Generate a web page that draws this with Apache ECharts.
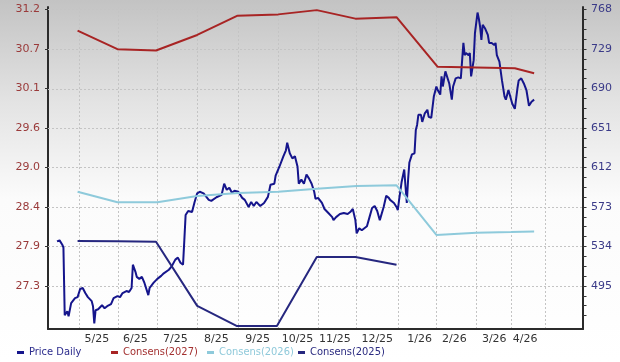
<!DOCTYPE html>
<html>
<head>
<meta charset="utf-8">
<script src="https://cdn.jsdelivr.net/npm/echarts@6/dist/echarts.min.js"></script>
<style>
html,body{margin:0;padding:0;background:#fff;}
#chart{width:620px;height:362px;}
</style>
</head>
<body>
<div id="chart"></div>
<script>
// ---- axis ranges / ticks ----
const startDay = '2025-04-06';
const endDay = '2026-05-27';
const leftMin = 26.724, leftMax = 31.264;
const rightMin = 452.5, rightMax = 770.5;
const leftTickValues = [27.33, 27.887, 28.444, 29.001, 29.558, 30.115, 30.672, 31.229];
const rightTickValues = [495, 534, 573, 612, 651, 690, 729, 768];
const rightMinorTickValues = [465.75,475.5,485.25, 504.75,514.5,524.25, 543.75,553.5,563.25, 582.75,592.5,602.25, 621.75,631.5,641.25, 660.75,670.5,680.25, 699.75,709.5,719.25, 738.75,748.5,758.25];
const gridDates = ['2025-04-30','2025-05-31','2025-06-30','2025-07-31','2025-09-01','2025-10-02','2025-11-02','2025-12-02','2026-01-03','2026-02-02','2026-03-05','2026-04-01','2026-04-28'];

// x tick labels (month labels)
const monthLabelDates = ['2025-05-14','2025-06-13','2025-07-14','2025-08-15','2025-09-16','2025-10-17','2025-11-15','2025-12-18','2026-01-20','2026-02-16','2026-03-19','2026-04-12'];
const monthLabelTexts = ['5/25','6/25','7/25','8/25','9/25','10/25','11/25','12/25','1/26','2/26','3/26','4/26'];

// ---- Price Daily (right axis) ----
const priceDates = ['2025-04-13','2025-04-15','2025-04-17','2025-04-18','2025-04-19','2025-04-20','2025-04-21','2025-04-22','2025-04-24','2025-04-27','2025-04-29',
'2025-05-01','2025-05-03','2025-05-05','2025-05-07','2025-05-10','2025-05-11','2025-05-12','2025-05-13','2025-05-15','2025-05-18','2025-05-20','2025-05-22','2025-05-25','2025-05-27','2025-05-30',
'2025-06-01','2025-06-03','2025-06-06','2025-06-08','2025-06-10','2025-06-11','2025-06-13','2025-06-14','2025-06-16','2025-06-18','2025-06-20','2025-06-21','2025-06-23','2025-06-24','2025-06-27','2025-06-30',
'2025-07-03','2025-07-05','2025-07-09','2025-07-11','2025-07-14','2025-07-16','2025-07-18','2025-07-20','2025-07-21','2025-07-22','2025-07-24','2025-07-27','2025-07-29','2025-07-31',
'2025-08-02','2025-08-05','2025-08-09','2025-08-11','2025-08-15','2025-08-19','2025-08-21','2025-08-23','2025-08-25','2025-08-27','2025-08-29',
'2025-09-01','2025-09-04','2025-09-06','2025-09-09','2025-09-11','2025-09-13','2025-09-15','2025-09-18','2025-09-21','2025-09-24','2025-09-26','2025-09-29','2025-09-30',
'2025-10-03','2025-10-06','2025-10-08','2025-10-09','2025-10-11','2025-10-13','2025-10-15','2025-10-17','2025-10-18','2025-10-20','2025-10-22','2025-10-24','2025-10-26','2025-10-28','2025-10-30','2025-10-31',
'2025-11-02','2025-11-05','2025-11-07','2025-11-10','2025-11-13','2025-11-14','2025-11-16','2025-11-19','2025-11-22','2025-11-25','2025-11-27','2025-11-29',
'2025-12-01','2025-12-02','2025-12-04','2025-12-06','2025-12-08','2025-12-10','2025-12-12','2025-12-14','2025-12-16','2025-12-18','2025-12-20','2025-12-23','2025-12-25','2025-12-27','2025-12-28','2025-12-31',
'2026-01-02','2026-01-03','2026-01-04','2026-01-06','2026-01-08','2026-01-09','2026-01-10','2026-01-11','2026-01-12','2026-01-14','2026-01-16','2026-01-17','2026-01-18','2026-01-19','2026-01-21','2026-01-22','2026-01-24','2026-01-26','2026-01-27','2026-01-29','2026-01-31',
'2026-02-02','2026-02-03','2026-02-05','2026-02-06','2026-02-07','2026-02-09','2026-02-10','2026-02-12','2026-02-14','2026-02-15','2026-02-17','2026-02-19','2026-02-21','2026-02-23','2026-02-24','2026-02-25','2026-02-27','2026-02-28',
'2026-03-01','2026-03-03','2026-03-04','2026-03-06','2026-03-07','2026-03-08','2026-03-09','2026-03-10','2026-03-12','2026-03-14','2026-03-15','2026-03-17','2026-03-19','2026-03-20','2026-03-21','2026-03-23','2026-03-25','2026-03-27','2026-03-28','2026-03-30','2026-03-31',
'2026-04-02','2026-04-04','2026-04-06','2026-04-07','2026-04-09','2026-04-11','2026-04-13','2026-04-14','2026-04-15','2026-04-17','2026-04-19'];
const priceValues = [539,540,536,533,466,465,470,465,478,483,484,
492,493,488,484,480,475,458,471,472,476,473,475,477,483,485,
484,488,490,489,493,516,509,504,502,504,498,499,486,493,498,502,
505,507.5,511,514,521,523,518,516,540,565,569,568,578,586.5,
588,586.5,580,579,582.6,585,596,590,592,587,589,
588,582,580,573,578,574,578,574,577,583,595,596,604,
613,623,629,636.5,626,621,623,613,596,600,596,605,601,596,588,581,
582,577,571,567,563,560,563,566,567,566,568,571,
560,547,552,550,552,554,563,572,574,569,560,573,584,582,580,577,
573,570,580,598,610,593,577,600,617,625,626,649,654,664,664,657,665.5,669,662,661,682,
692,688.5,684,702,692,707,703,695,679,692,700,701,700,735,723,725,723,725,
702,718,745,765,759,751,738,753,749,743,735,735,733,735,723,716.5,698,682,679,688.5,684,
675,670,690,698,700,695,688.5,688,673,677,679];

// ---- Consensus estimates (left axis) ----
const cons2027Dates = ['2025-04-29','2025-05-30','2025-06-29','2025-07-31','2025-08-31','2025-10-02','2025-11-01','2025-12-01','2026-01-02','2026-02-03','2026-04-04','2026-04-19'];
const cons2027Values = [30.93,30.67,30.65,30.87,31.14,31.16,31.22,31.10,31.12,30.42,30.40,30.33];
const cons2026Dates = ['2025-04-29','2025-05-30','2025-06-30','2025-07-31','2025-09-01','2025-10-02','2025-11-01','2025-12-02','2026-01-02','2026-02-02','2026-03-05','2026-04-01','2026-04-19'];
const cons2026Values = [28.66,28.51,28.51,28.60,28.64,28.66,28.70,28.74,28.75,28.05,28.08,28.09,28.10];
const cons2025Dates = ['2025-04-29','2025-05-30','2025-06-29','2025-07-31','2025-08-31','2025-10-01','2025-11-01','2025-12-01','2026-01-02'];
const cons2025Values = [27.965,27.96,27.955,27.05,26.766,26.766,27.74,27.74,27.63];

const colors = {price:'#15158c', c2027:'#a82424', c2026:'#8ecadb', c2025:'#26277f'};

// build daily categories
function buildDays(a, b){
  const out = [];
  const pa = a.split('-').map(Number), pb = b.split('-').map(Number);
  let t = Date.UTC(pa[0], pa[1]-1, pa[2]);
  const te = Date.UTC(pb[0], pb[1]-1, pb[2]);
  while (t <= te){
    const d = new Date(t);
    out.push(d.getUTCFullYear()+'-'+String(d.getUTCMonth()+1).padStart(2,'0')+'-'+String(d.getUTCDate()).padStart(2,'0'));
    t += 86400000;
  }
  return out;
}
const days = buildDays(startDay, endDay);
const zip = (xs, ys) => xs.map((x,i)=>[x, ys[i]]);

const chart = echarts.init(document.getElementById('chart'), null, {renderer:'canvas'});
const FONT = 'DejaVu Sans';
const LFONT = "'DejaVu Sans Condensed', 'Liberation Sans', sans-serif";
const gridStyle = {color:'#c4c4c4', type:[2,2], width:1};

const legendItems = [
  {name:'Price Daily', left:17, color:'#2b2b8c'},
  {name:'Consens(2027)', left:111, color:'#a33030'},
  {name:'Consens(2026)', left:207, color:'#8fc9da'},
  {name:'Consens(2025)', left:298, color:'#2b2b80'}
];

chart.setOption({
  animation:false,
  backgroundColor: new echarts.graphic.LinearGradient(0,0,0,1,[
    {offset:0, color:'#c3c3c3'},
    {offset:0.28, color:'#e3e3e3'},
    {offset:0.55, color:'#fbfbfb'},
    {offset:1, color:'#ffffff'}
  ]),
  grid:{left:48, right:37, top:7, bottom:33, containLabel:false},
  legend: legendItems.map(it => ({
    left:it.left, top:347, itemWidth:7, itemHeight:3, icon:'rect', padding:0,
    textStyle:{fontFamily:LFONT, fontSize:11, color:it.color},
    data:[it.name]
  })),
  xAxis:{
    type:'category', data:days, boundaryGap:false,
    axisLine:{lineStyle:{color:'#2b2b2b', width:2}},
    axisTick:{show:false},
    splitLine:{show:true, interval:(i,v)=>gridDates.indexOf(v)>=0, lineStyle:gridStyle},
    axisLabel:{
      interval:(i,v)=>monthLabelDates.indexOf(v)>=0,
      formatter:(v)=>monthLabelTexts[monthLabelDates.indexOf(v)],
      fontFamily:FONT, fontSize:11, color:'#333', margin:5, hideOverlap:false
    }
  },
  yAxis:[
    {
      type:'value', position:'left', min:leftMin, max:leftMax,
      axisLine:{show:true, lineStyle:{color:'#2b2b2b', width:2}},
      axisTick:{show:true, length:3, customValues:leftTickValues, lineStyle:{color:'#333'}},
      axisLabel:{customValues:leftTickValues, formatter:(v)=>v.toFixed(1), fontFamily:FONT, fontSize:11, color:'#9a3a3a', margin:8},
      splitLine:{show:false}
    },
    {
      type:'value', position:'right', min:rightMin, max:rightMax,
      axisLine:{show:true, lineStyle:{color:'#2b2b2b', width:2}},
      axisTick:{show:true, length:3.5, customValues:rightTickValues.concat(rightMinorTickValues), lineStyle:{color:'#333'}},
      axisLabel:{customValues:rightTickValues, fontFamily:FONT, fontSize:11, color:'#3a3a88', margin:8},
      splitLine:{show:false}
    }
  ],
  series:[
    {name:'Price Daily', type:'line', yAxisIndex:1, data:zip(priceDates, priceValues), showSymbol:false, symbol:'none',
      lineStyle:{color:colors.price, width:2}, itemStyle:{color:colors.price}, z:2},
    {name:'Consens(2027)', type:'line', yAxisIndex:0, data:zip(cons2027Dates, cons2027Values), showSymbol:false, symbol:'none',
      lineStyle:{color:colors.c2027, width:2}, itemStyle:{color:colors.c2027}, z:3,
      markLine:{silent:true, symbol:'none', label:{show:false}, lineStyle:gridStyle, z:1,
        data:leftTickValues.map(v=>({yAxis:v}))}},
    {name:'Consens(2026)', type:'line', yAxisIndex:0, data:zip(cons2026Dates, cons2026Values), showSymbol:false, symbol:'none',
      lineStyle:{color:colors.c2026, width:2}, itemStyle:{color:colors.c2026}, z:3},
    {name:'Consens(2025)', type:'line', yAxisIndex:0, data:zip(cons2025Dates, cons2025Values), showSymbol:false, symbol:'none',
      lineStyle:{color:colors.c2025, width:2}, itemStyle:{color:colors.c2025}, z:3}
  ]
});
</script>
</body>
</html>
